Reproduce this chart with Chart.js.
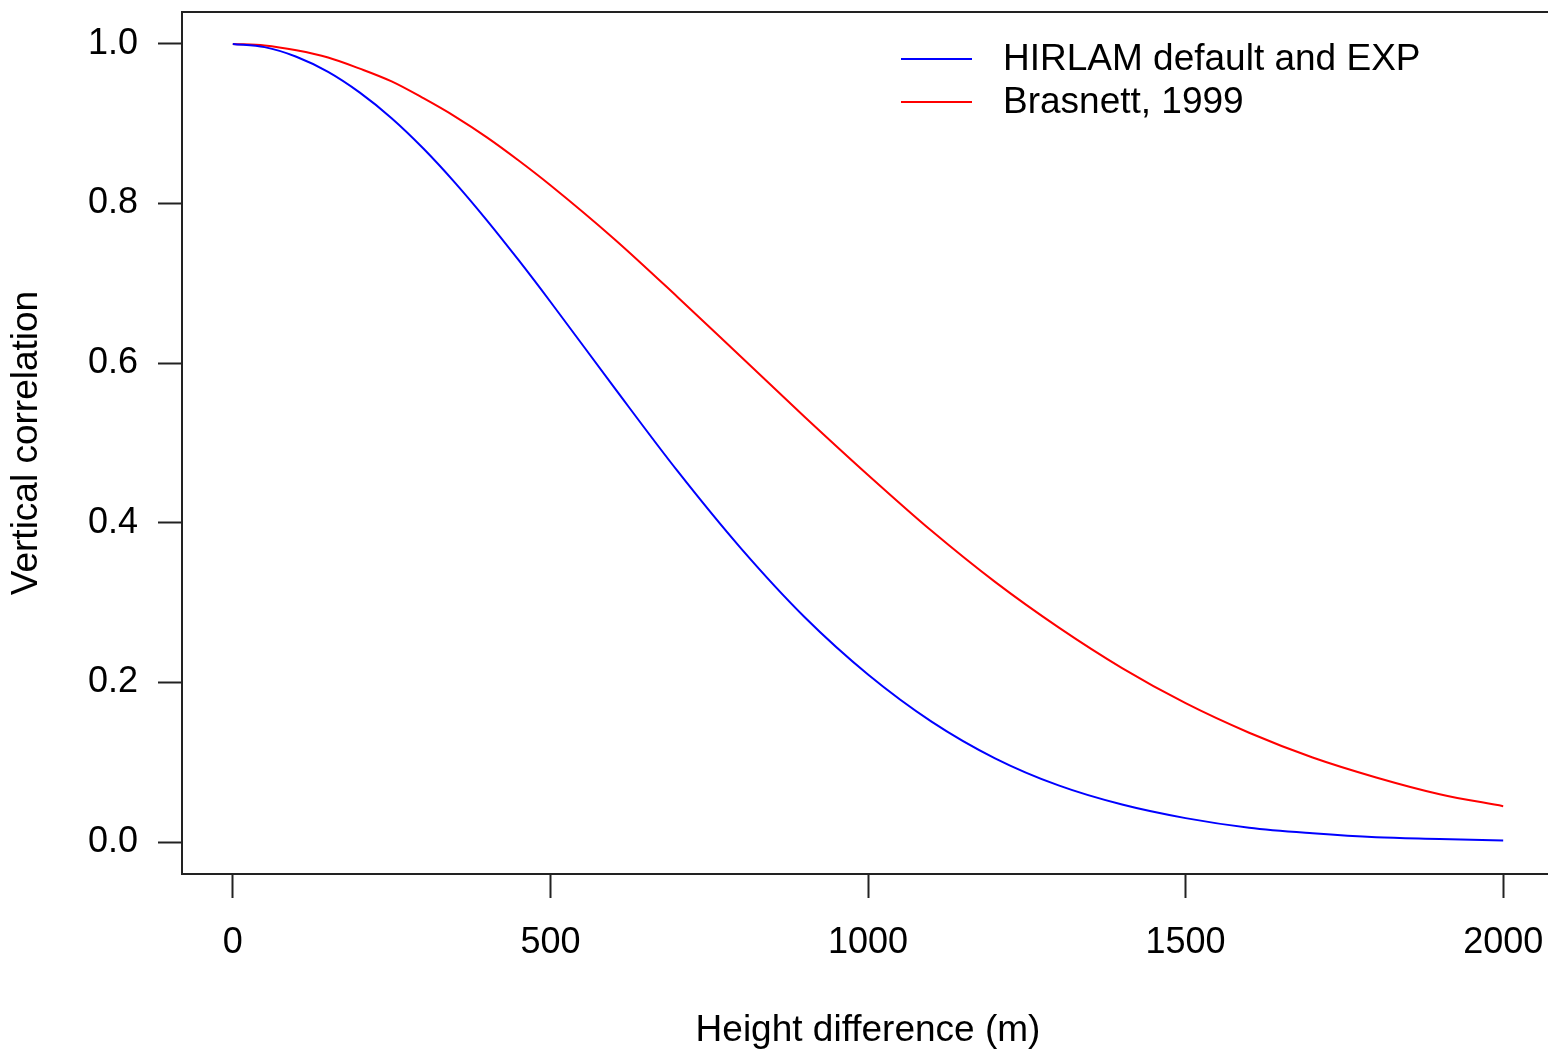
<!DOCTYPE html>
<html>
<head>
<meta charset="utf-8">
<script src="https://cdn.jsdelivr.net/npm/chart.js@4.4.1/dist/chart.umd.min.js"></script>
<style>
  html, body { margin: 0; padding: 0; background: #fff; overflow: hidden; }
  #wrap { width: 1548px; height: 1054px; overflow: hidden; }
  #corrCanvas { display: block; }
</style>
</head>
<body>
<div id="wrap"><canvas id="corrCanvas" width="1570" height="1054"></canvas></div>
<script>
// height difference (m)
const heights = [0, 50, 100, 150, 200, 250, 300, 350, 400, 450, 500, 600, 700, 800, 900, 1000,
                 1100, 1200, 1300, 1400, 1500, 1600, 1700, 1800, 1900, 2000];
// HIRLAM default and EXP
const hirlamCorr = [1.000, 0.996, 0.984, 0.965, 0.939, 0.907, 0.869, 0.826, 0.779, 0.729, 0.677,
                    0.570, 0.465, 0.368, 0.282, 0.210,
                    0.151, 0.105, 0.071, 0.047, 0.030, 0.018, 0.011, 0.006, 0.004, 0.002];
// Brasnett, 1999
const brasnettCorr = [1.000, 0.998, 0.992, 0.983, 0.969, 0.953, 0.932, 0.909, 0.883, 0.854, 0.823,
                      0.756, 0.683, 0.608, 0.533, 0.460,
                      0.390, 0.326, 0.269, 0.218, 0.174, 0.137, 0.106, 0.081, 0.060, 0.045];
const xTicks = [0, 500, 1000, 1500, 2000];
const yTicks = [0.0, 0.2, 0.4, 0.6, 0.8, 1.0];

const seriesNames = ["HIRLAM default and EXP", "Brasnett, 1999"];
const seriesColors = ["#0000ff", "#ff0000"];

const FONT = "'Liberation Sans', Arial, Helvetica, sans-serif";

function toPoints(xs, ys) {
  return xs.map((x, i) => ({ x: x, y: ys[i] }));
}

// box round the plot area, like R's box()
const boxPlugin = {
  id: 'box',
  afterDraw(chart) {
    const a = chart.chartArea, ctx = chart.ctx;
    ctx.save();
    ctx.strokeStyle = '#222';
    ctx.lineWidth = 2;
    ctx.strokeRect(a.left, a.top, a.right - a.left, a.bottom - a.top);
    ctx.restore();
  }
};

// legend inside the plot, no frame
const legendPlugin = {
  id: 'rLegend',
  afterDraw(chart) {
    const ctx = chart.ctx;
    ctx.save();
    ctx.font = "37px " + FONT;
    ctx.textBaseline = 'middle';
    ctx.textAlign = 'left';
    chart.data.datasets.forEach(function (ds, i) {
      const y = 59 + i * 43;
      ctx.strokeStyle = ds.borderColor;
      ctx.lineWidth = 2;
      ctx.beginPath();
      ctx.moveTo(901, y);
      ctx.lineTo(972, y);
      ctx.stroke();
      ctx.fillStyle = '#000';
      ctx.fillText(ds.label, 1003, y + 1);
    });
    ctx.restore();
  }
};

const canvas = document.getElementById("corrCanvas");
new Chart(canvas, {
  type: 'line',
  data: {
    datasets: [
      {
        label: seriesNames[0],
        data: toPoints(heights, hirlamCorr),
        borderColor: seriesColors[0],
        borderWidth: 2,
        pointRadius: 0,
        fill: false,
        cubicInterpolationMode: 'monotone'
      },
      {
        label: seriesNames[1],
        data: toPoints(heights, brasnettCorr),
        borderColor: seriesColors[1],
        borderWidth: 2,
        pointRadius: 0,
        fill: false,
        cubicInterpolationMode: 'monotone'
      }
    ]
  },
  options: {
    responsive: false,
    animation: false,
    devicePixelRatio: 1,
    layout: { padding: { left: 0, top: 12, right: 16, bottom: 0 } },
    plugins: {
      legend: { display: false },
      tooltip: { enabled: false }
    },
    scales: {
      x: {
        type: 'linear',
        min: -80,
        max: 2080,
        afterBuildTicks: function (s) { s.ticks = xTicks.map(v => ({ value: v })); },
        afterFit: function (s) {
          s.height = 180;
          s.paddingLeft = 0; s.paddingRight = 0;
        },
        border: { display: false },
        grid: { drawOnChartArea: false, drawTicks: true, tickLength: 24, tickWidth: 2, tickColor: '#222' },
        ticks: {
          padding: 23,
          color: '#000',
          maxRotation: 0,
          font: { family: FONT, size: 36 },
          callback: v => String(v)
        },
        title: {
          display: true,
          text: 'Height difference (m)',
          color: '#000',
          font: { family: FONT, size: 37 },
          padding: { top: 0, bottom: 1 }
        }
      },
      y: {
        type: 'linear',
        min: -0.04,
        max: 1.04,
        afterBuildTicks: function (s) { s.ticks = yTicks.map(v => ({ value: v })); },
        afterFit: function (s) {
          s.width = 182;
          s.paddingTop = 0; s.paddingBottom = 0;
        },
        border: { display: false },
        grid: { drawOnChartArea: false, drawTicks: true, tickLength: 24, tickWidth: 2, tickColor: '#222' },
        ticks: {
          padding: 20,
          color: '#000',
          font: { family: FONT, size: 36 },
          callback: v => Number(v).toFixed(1)
        },
        title: {
          display: true,
          text: 'Vertical correlation',
          color: '#000',
          font: { family: FONT, size: 37 },
          padding: { top: 5, bottom: 0 }
        }
      }
    }
  },
  plugins: [boxPlugin, legendPlugin]
});
</script>
</body>
</html>
